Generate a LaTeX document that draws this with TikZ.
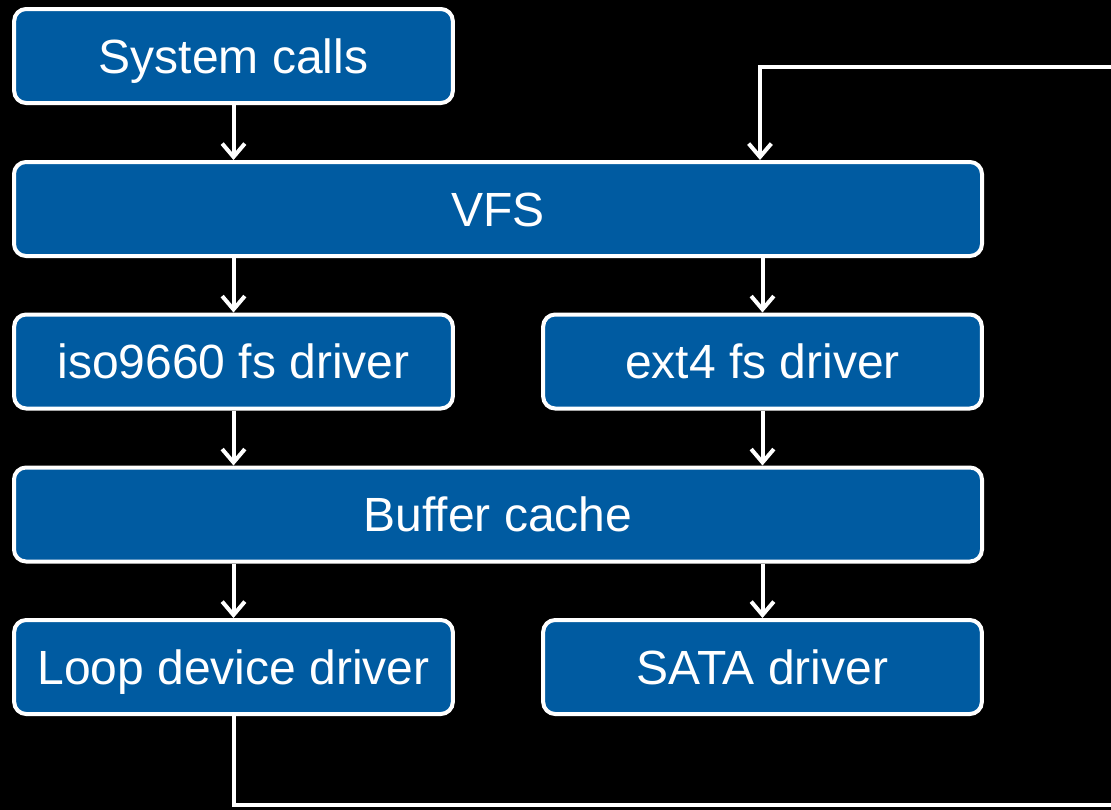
\documentclass[tikz,border=0pt]{standalone}
\usepackage{fontspec}
\setmainfont{Liberation Sans}
\usetikzlibrary{arrows.meta}

\definecolor{layerblue}{RGB}{0,91,161}

\tikzset{every picture/.style={line width=0.75pt}}
\tikzset{
  layer/.style={draw=white, line width=3pt, fill=layerblue, rounded corners=9pt,
    text=white, inner sep=0pt, minimum height=70.5pt,
    text height=25.8pt, text depth=0pt,
    font=\fontsize{36}{43}\selectfont},
  halflayer/.style={layer, minimum width=329pt},
  fulllayer/.style={layer, minimum width=726pt},
  wire/.style={draw=white, line width=3pt},
  flow/.style={wire, -{Straight Barb[length=10pt,width=17pt]}}
}

\begin{document}
\begin{tikzpicture}[x=0.75pt,y=0.75pt,yscale=-1,xscale=1]
% page and background
\useasboundingbox (0,0) rectangle (1111,810);
\fill[black] (0,0) rectangle (1111,810);
\clip (0,0) rectangle (1111,810);

% Layers
\node[halflayer] (sys)  at (233.5,56)  {System calls};
\node[fulllayer] (vfs)  at (498,209)   {VFS};
\node[halflayer] (iso)  at (233.5,361.5) {iso9660 fs driver};
\node[halflayer] (ext)  at (762.5,361.5) {ext4 fs driver};
\node[fulllayer] (buf)  at (498,514.5) {Buffer cache};
\node[halflayer] (loop) at (233.5,667) {Loop device driver};
\node[halflayer] (sata) at (762.5,667) {SATA driver};

% loop device feeds back into the VFS
\coordinate (out)  at (1130,805);
\coordinate (back) at (1130,67);
\coordinate (tap)  at (760,160);

% Arrows between layers
\draw[flow] (sys.south) -- (sys.south |- vfs.north);
\draw[flow] (vfs.south -| iso.north) -- (iso.north);
\draw[flow] (vfs.south -| ext.north) -- (ext.north);
\draw[flow] (iso.south) -- (iso.south |- buf.north);
\draw[flow] (ext.south) -- (ext.south |- buf.north);
\draw[flow] (buf.south -| loop.north) -- (loop.north);
\draw[flow] (buf.south -| sata.north) -- (sata.north);

% Loop path
\draw[wire] (loop.south) |- (out);
\draw[flow] (back) -| (tap);

\end{tikzpicture}
\end{document}
